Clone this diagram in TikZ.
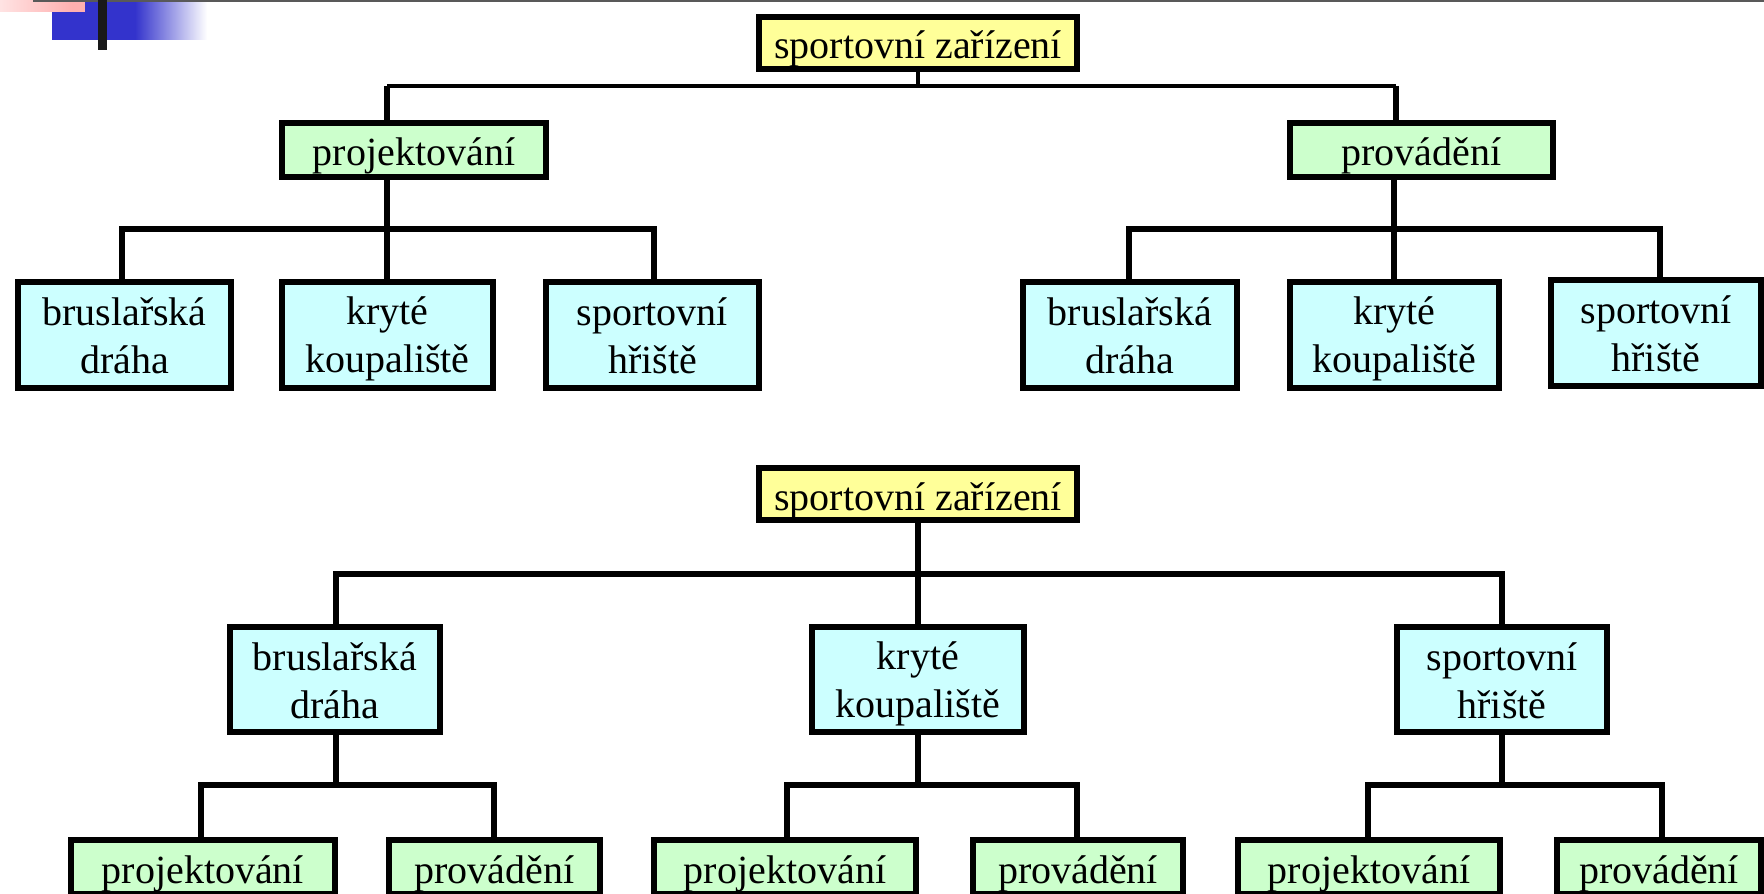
\documentclass[tikz,border=0pt]{standalone}
\usepackage{fontspec}
\setmainfont{Liberation Serif}
\definecolor{boxyellow}{RGB}{255,255,153}
\definecolor{boxgreen}{RGB}{204,255,204}
\definecolor{boxcyan}{RGB}{204,255,255}
\definecolor{logoblue}{RGB}{51,51,204}
\definecolor{logopink}{RGB}{255,176,176}
% fixed-height struts keep both lines of a box on the same baselines
\newcommand{\linestrut}{\rule[-3.4pt]{0pt}{21.4pt}}
\newcommand{\twolines}[2]{\linestrut#1\\\linestrut#2}
\tikzset{
  box/.style={draw=black, line width=3pt, inner sep=0pt,
    font=\fontsize{20}{24}\selectfont},
  oneline/.style={box, text height=18pt, text depth=2pt, minimum height=27pt},
  twoline/.style={box, align=center, minimum height=53pt},
  rootbox/.style={oneline, fill=boxyellow, minimum width=159pt, minimum height=26pt},
  phasebox/.style={oneline, fill=boxgreen},
  sitebox/.style={twoline, fill=boxcyan},
  link/.style={line width=3pt},
  thinlink/.style={line width=2pt},
}
\begin{document}
\begin{tikzpicture}[x=0.5pt, y=-0.5pt]
\path[use as bounding box, fill=white] (0,0) rectangle (1764,893);
\clip (0,0) rectangle (1764,893);

% corner ornament
\fill[logoblue] (52,0) rectangle (135,40);
\shade[left color=logoblue, right color=white] (135,0) rectangle (207,40);
\shade[left color=logopink!35, right color=logopink] (0,0) rectangle (72,12);
\fill[logopink] (72,0) rectangle (85,12);
\draw[black!65, line width=1pt] (33,1) -- (1764,1);
\fill[black!90] (98,0) rectangle (107,50);

% ---------- upper tree ----------
\node[rootbox] (R1) at (918,43) {sportovní zařízení};
\node[phasebox, minimum width=132pt] (A) at (414,150) {projektování};
\node[phasebox, minimum width=131.5pt] (B) at (1421.5,150) {provádění};

\node[sitebox, minimum width=106.5pt] (c1) at (124.5,335) {\twolines{bruslařská}{dráha}};
\node[sitebox, minimum width=105.5pt] (c2) at (387.5,335) {\twolines{kryté}{koupaliště}};
\node[sitebox, minimum width=106.5pt] (c3) at (652.5,335) {\twolines{sportovní}{hřiště}};

\node[sitebox, minimum width=107pt] (d1) at (1130,335) {\twolines{bruslařská}{dráha}};
\node[sitebox, minimum width=104.5pt] (d2) at (1394.5,335) {\twolines{kryté}{koupaliště}};
\node[sitebox, minimum width=105pt] (d3) at (1656,333) {\twolines{sportovní}{hřiště}};

\coordinate (b0L) at (387,86);
\coordinate (b0R) at (1396,86);
\draw[thinlink] (R1.south) -- (R1.south |- b0L);
\draw[thinlink] (b0L) -- (b0R);
\draw[link] (b0L) -- (b0L |- A.north);
\draw[link] (b0R) -- (b0R |- B.north);

\coordinate (b1L) at (122,229);
\coordinate (b1M) at (387,229);
\coordinate (b1R) at (654,229);
\draw[link] (b1M |- A.south) -- (b1M);
\draw[link] (b1L |- c1.north) -- (b1L) -- (b1R) -- (b1R |- c3.north);
\draw[link] (b1M) -- (b1M |- c2.north);

\coordinate (b2L) at (1129,229);
\coordinate (b2M) at (1394,229);
\coordinate (b2R) at (1660,229);
\draw[link] (b2M |- B.south) -- (b2M);
\draw[link] (b2L |- d1.north) -- (b2L) -- (b2R) -- (b2R |- d3.north);
\draw[link] (b2M) -- (b2M |- d2.north);

% ---------- lower tree ----------
\node[rootbox] (R2) at (918,494) {sportovní zařízení};

\node[sitebox, minimum width=105pt, minimum height=52.5pt] (e1) at (335,679.5) {\twolines{bruslařská}{dráha}};
\node[sitebox, minimum width=106pt, minimum height=52.5pt] (e2) at (918,679.5) {\twolines{kryté}{koupaliště}};
\node[sitebox, minimum width=105pt, minimum height=52.5pt] (e3) at (1502,679.5) {\twolines{sportovní}{hřiště}};

\node[phasebox, minimum width=132pt] (f1) at (203,867) {projektování};
\node[phasebox, minimum width=105.5pt] (f2) at (494.5,867) {provádění};
\node[phasebox, minimum width=131pt] (f3) at (785,867) {projektování};
\node[phasebox, minimum width=105pt] (f4) at (1078,867) {provádění};
\node[phasebox, minimum width=131pt] (f5) at (1369,867) {projektování};
\node[phasebox, minimum width=102pt] (f6) at (1659,867) {provádění};

\coordinate (b3L) at (336,574);
\coordinate (b3M) at (918,574);
\coordinate (b3R) at (1502,574);
\draw[link] (R2.south) -- (b3M);
\draw[link] (b3L |- e1.north) -- (b3L) -- (b3R) -- (b3R |- e3.north);
\draw[link] (b3M) -- (e2.north);

\coordinate (g1L) at (201,785);
\coordinate (g1M) at (336,785);
\coordinate (g1R) at (494,785);
\draw[link] (g1M |- e1.south) -- (g1M);
\draw[link] (g1L |- f1.north) -- (g1L) -- (g1R) -- (g1R |- f2.north);

\coordinate (g2L) at (787,785);
\coordinate (g2M) at (918,785);
\coordinate (g2R) at (1077,785);
\draw[link] (e2.south) -- (g2M);
\draw[link] (g2L |- f3.north) -- (g2L) -- (g2R) -- (g2R |- f4.north);

\coordinate (g3L) at (1368,785);
\coordinate (g3M) at (1502,785);
\coordinate (g3R) at (1662,785);
\draw[link] (g3M |- e3.south) -- (g3M);
\draw[link] (g3L |- f5.north) -- (g3L) -- (g3R) -- (g3R |- f6.north);
\end{tikzpicture}
\end{document}
